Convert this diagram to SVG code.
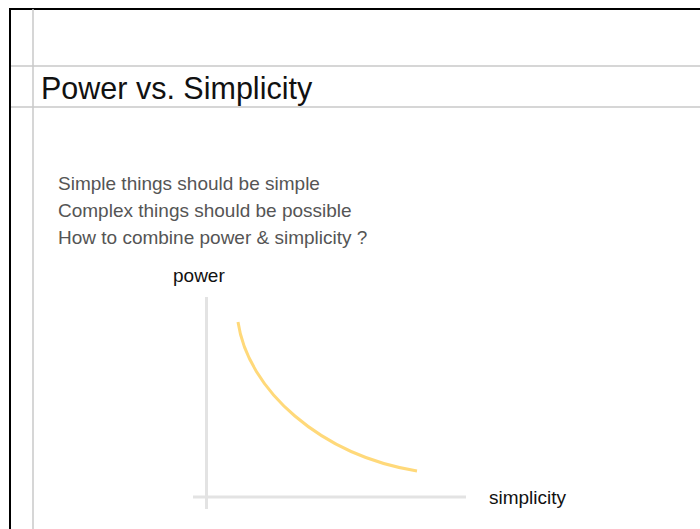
<svg xmlns="http://www.w3.org/2000/svg" width="700" height="529" viewBox="0 0 700 529">
<style>
.grid{stroke:#c8c8c8;stroke-width:1.5;fill:none}
.axis{stroke:#e3e3e3;stroke-width:3;fill:none}
.t{font-family:"Liberation Sans",Arial,sans-serif}
.body{font-size:19px;fill:#555}
.lab{font-size:19px;fill:#111}
</style>
<rect width="700" height="529" fill="#fff"/>
<g id="frame">
<line x1="10" y1="9" x2="700" y2="9" stroke="#000" stroke-width="2"/>
<line x1="10" y1="8" x2="10" y2="529" stroke="#000" stroke-width="2"/>
<line class="grid" x1="33" y1="9" x2="33" y2="529"/>
<line class="grid" x1="11" y1="66" x2="700" y2="66"/>
<line class="grid" x1="11" y1="107" x2="700" y2="107"/>
</g>
<g id="title"><text class="t" x="41" y="99" font-size="30.5" fill="#111">Power vs. Simplicity</text></g>
<g id="bullets">
<text class="t body" x="58" y="190">Simple things should be simple</text>
<text class="t body" x="58" y="217">Complex things should be possible</text>
<text class="t body" x="58" y="244">How to combine power &amp; simplicity ?</text>
</g>
<g id="chart">
<line class="axis" x1="206.5" y1="297" x2="206.5" y2="509"/>
<line class="axis" x1="193" y1="497" x2="466" y2="497"/>
<path d="M238,322 C248,390 320,455 417,471" fill="none" stroke="#ffd97a" stroke-width="3"/>
<text class="t lab" x="173" y="282">power</text>
<text class="t lab" x="489" y="504">simplicity</text>
</g>
</svg>
